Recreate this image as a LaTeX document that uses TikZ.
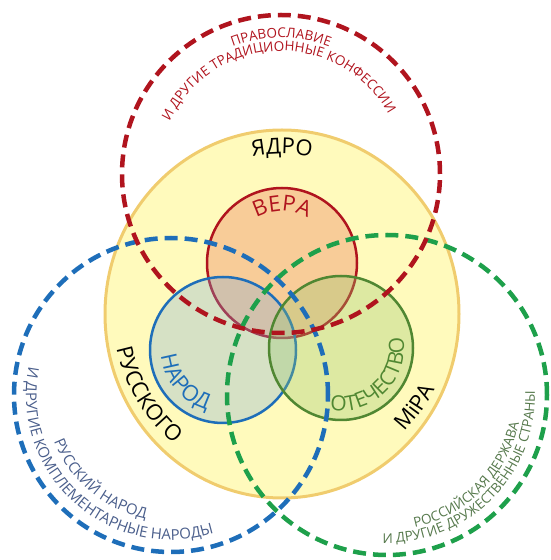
\documentclass[tikz,border=0pt]{standalone}
\usepackage{fontspec}
\setmainfont{Open Sans}
\usetikzlibrary{decorations.text}
\definecolor{kernelfill}{RGB}{255,250,188}
\definecolor{kernelline}{RGB}{240,204,110}
\definecolor{faithred}{RGB}{176,20,30}
\definecolor{faithfill}{RGB}{240,150,110}
\definecolor{folkblue}{RGB}{30,110,185}
\definecolor{folkfill}{RGB}{120,170,220}
\definecolor{landgreen}{RGB}{30,160,75}
\definecolor{landline}{RGB}{80,135,50}
\definecolor{landfill}{RGB}{150,200,110}
\definecolor{folktext}{RGB}{75,95,140}
\definecolor{landtext}{RGB}{85,120,75}
\tikzset{x=1pt, y=1pt}
\tikzstyle{kernel} = [draw=kernelline, fill=kernelfill, line width=3pt]
\tikzstyle{core} = [line width=2.5pt, fill opacity=0.45]
\tikzstyle{sphere} = [line width=4.5pt, dash pattern=on 13pt off 7pt]
\newcommand{\arclabel}[5]{%
  \path[decorate, decoration={text along path, text align=center, text={#5}}]
    (#1) ++(#2:#4) arc (#2:#3:#4);}
\newcommand{\bigword}[1]{\fontsize{22}{22}\selectfont\color{#1}}
\newcommand{\smallword}[1]{\fontsize{13.5}{13.5}\selectfont\color{#1}}

\begin{document}
\begin{tikzpicture}
	\useasboundingbox (0,0) rectangle (550,560);
	\coordinate (core) at (282,246);
	\coordinate (vera) at (282,297);
	\coordinate (narod) at (223,210);
	\coordinate (otech) at (341,212);
	\coordinate (faith) at (281,386);
	\coordinate (folk) at (171,165);
	\coordinate (land) at (387,165);

	% yadro
	\draw[kernel] (core) ellipse (177pt and 184pt);

	\draw[core, draw=faithred, fill=faithfill] (vera) circle (75pt);
	\draw[core, draw=folkblue, fill=folkfill, fill opacity=0.3] (narod) circle (73pt);
	\draw[core, draw=landline, fill=landfill, fill opacity=0.32] (otech) circle (72pt);

	\draw[sphere, draw=landgreen] (land) circle (160pt);
	\draw[sphere, draw=folkblue] (folk) circle (157pt);
	\draw[sphere, draw=faithred] (faith) circle (159pt);

	\arclabel{core}{118}{62}{160pt}{|\bigword{black}|ЯДРО}
	\arclabel{core}{166}{256}{169pt}{|\bigword{black}|РУССКОГО}
	\arclabel{core}{-65}{-5}{170pt}{|\bigword{black}|МіРА}
	\arclabel{vera}{165}{15}{52pt}{|\bigword{faithred}|ВЕРА}
	\arclabel{narod}{150}{290}{62pt}{|\bigword{folkblue}|НАРОД}
	\arclabel{otech}{225}{405}{63pt}{|\fontsize{21}{21}\selectfont\color{landline}|ОТЕЧЕСТВО}

	\arclabel{faith}{150}{30}{136pt}{|\smallword{faithred}|ПРАВОСЛАВИЕ}
	\arclabel{faith}{180}{4}{123pt}{|\smallword{faithred}|И ДРУГИЕ ТРАДИЦИОННЫЕ КОНФЕССИИ}
	\arclabel{folk}{150}{310}{126pt}{|\fontsize{15}{15}\selectfont\color{folktext}|РУССКИЙ НАРОД}
	\arclabel{folk}{120}{336}{145pt}{|\fontsize{15}{15}\selectfont\color{folktext}|И ДРУГИЕ КОМПЛЕМЕНТАРНЫЕ НАРОДЫ}
	\arclabel{land}{250}{380}{135pt}{|\smallword{landtext}|РОССИЙСКАЯ ДЕРЖАВА}
	\arclabel{land}{220}{410}{148pt}{|\smallword{landtext}|И ДРУГИЕ ДРУЖЕСТВЕННЫЕ СТРАНЫ}
\end{tikzpicture}
\end{document}
